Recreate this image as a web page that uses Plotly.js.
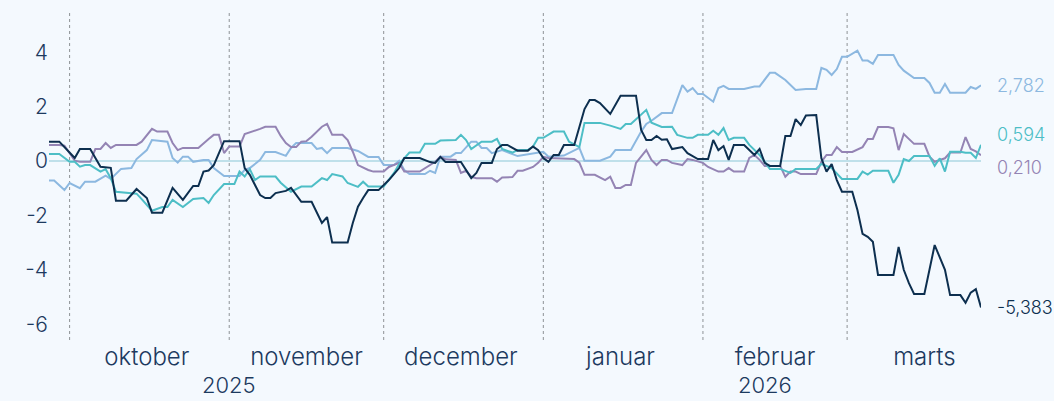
<!DOCTYPE html>
<html>
<head>
<meta charset="utf-8">
<script src="https://cdn.plot.ly/plotly-3.0.1.min.js"></script>
<style>
  html, body { margin: 0; padding: 0; background: #f4f9fe; }
  #chart { width: 1054px; height: 401px; }
</style>
</head>
<body>
<div id="chart"></div>
<script>
// ---- data ----
const seriesNames = ["Serie A", "Serie B", "Serie C", "Serie D"];
const seriesColors = ["#8cb8e0", "#9484b4", "#4dbec6", "#0d2f4f"];

const lightDates = ["2025-09-27","2025-09-28","2025-09-30","2025-10-01","2025-10-03","2025-10-04","2025-10-06","2025-10-08","2025-10-09","2025-10-11","2025-10-13","2025-10-14","2025-10-16","2025-10-17","2025-10-20","2025-10-21","2025-10-22","2025-10-23","2025-10-24","2025-10-25","2025-10-27","2025-10-28","2025-10-29","2025-10-31","2025-11-03","2025-11-04","2025-11-05","2025-11-07","2025-11-08","2025-11-10","2025-11-12","2025-11-13","2025-11-14","2025-11-17","2025-11-18","2025-11-19","2025-11-20","2025-11-21","2025-11-24","2025-11-26","2025-11-28","2025-11-30","2025-12-01","2025-12-03","2025-12-04","2025-12-05","2025-12-06","2025-12-09","2025-12-10","2025-12-11","2025-12-12","2025-12-14","2025-12-15","2025-12-16","2025-12-18","2025-12-19","2025-12-20","2025-12-21","2025-12-22","2025-12-24","2025-12-27","2025-12-30","2026-01-01","2026-01-02","2026-01-05","2026-01-08","2026-01-09","2026-01-12","2026-01-14","2026-01-15","2026-01-18","2026-01-20","2026-01-21","2026-01-22","2026-01-24","2026-01-26","2026-01-28","2026-01-29","2026-01-30","2026-01-31","2026-02-01","2026-02-03","2026-02-04","2026-02-05","2026-02-06","2026-02-09","2026-02-11","2026-02-12","2026-02-14","2026-02-15","2026-02-17","2026-02-19","2026-02-21","2026-02-23","2026-02-24","2026-02-25","2026-02-26","2026-02-27","2026-02-28","2026-03-01","2026-03-03","2026-03-04","2026-03-05","2026-03-06","2026-03-07","2026-03-10","2026-03-11","2026-03-12","2026-03-14","2026-03-16","2026-03-17","2026-03-18","2026-03-19","2026-03-20","2026-03-21","2026-03-24","2026-03-25","2026-03-26","2026-03-27"];
const lightValues = [-0.72,-0.72,-1.07,-0.81,-1.0,-0.76,-0.76,-0.54,-0.66,-0.29,-0.26,0.07,0.4,0.77,0.71,0.11,-0.06,0.16,0.16,-0.03,0.04,0.04,-0.26,-0.55,-0.55,-0.33,-0.26,0.04,0.33,0.33,0.19,0.48,0.66,0.66,0.44,0.48,0.29,0.48,0.48,0.37,0.15,0.15,-0.15,-0.15,0.01,-0.33,-0.48,-0.48,-0.36,-0.44,0.16,0.16,0.29,0.29,0.71,0.71,0.48,0.48,0.29,0.4,0.18,0.26,0.34,0.16,0.2,0.48,0.01,0.01,0.16,0.4,0.4,1.08,1.36,1.48,1.76,1.76,2.79,2.55,2.68,2.46,2.46,2.18,2.68,2.76,2.65,2.65,2.74,2.74,3.24,3.24,2.98,2.61,2.65,2.65,3.42,3.35,3.16,3.38,3.83,3.83,4.06,3.69,3.69,3.57,3.9,3.9,3.53,3.32,3.05,3.05,2.87,2.51,2.51,2.83,2.51,2.51,2.72,2.65,2.782];

const purpleDates = ["2025-09-27","2025-09-29","2025-09-30","2025-10-01","2025-10-02","2025-10-03","2025-10-05","2025-10-06","2025-10-07","2025-10-08","2025-10-09","2025-10-10","2025-10-12","2025-10-14","2025-10-15","2025-10-17","2025-10-18","2025-10-20","2025-10-21","2025-10-22","2025-10-23","2025-10-26","2025-10-28","2025-10-29","2025-10-30","2025-10-31","2025-11-01","2025-11-03","2025-11-04","2025-11-06","2025-11-07","2025-11-08","2025-11-10","2025-11-11","2025-11-12","2025-11-13","2025-11-14","2025-11-15","2025-11-16","2025-11-17","2025-11-19","2025-11-20","2025-11-21","2025-11-23","2025-11-24","2025-11-25","2025-11-26","2025-11-28","2025-11-29","2025-12-01","2025-12-02","2025-12-04","2025-12-05","2025-12-08","2025-12-10","2025-12-11","2025-12-12","2025-12-13","2025-12-15","2025-12-16","2025-12-17","2025-12-18","2025-12-19","2025-12-22","2025-12-23","2025-12-24","2025-12-26","2025-12-27","2025-12-28","2025-12-30","2025-12-31","2026-01-01","2026-01-02","2026-01-07","2026-01-08","2026-01-09","2026-01-11","2026-01-13","2026-01-14","2026-01-15","2026-01-16","2026-01-17","2026-01-18","2026-01-19","2026-01-21","2026-01-22","2026-01-23","2026-01-24","2026-01-25","2026-01-26","2026-01-28","2026-01-29","2026-01-30","2026-02-01","2026-02-02","2026-02-04","2026-02-05","2026-02-06","2026-02-07","2026-02-09","2026-02-10","2026-02-11","2026-02-12","2026-02-13","2026-02-16","2026-02-17","2026-02-18","2026-02-19","2026-02-20","2026-02-23","2026-02-24","2026-02-25","2026-02-26","2026-02-27","2026-02-28","2026-03-02","2026-03-04","2026-03-05","2026-03-06","2026-03-07","2026-03-09","2026-03-10","2026-03-11","2026-03-12","2026-03-14","2026-03-16","2026-03-17","2026-03-18","2026-03-20","2026-03-21","2026-03-23","2026-03-24","2026-03-25","2026-03-26","2026-03-27"];
const purpleValues = [0.59,0.59,0.56,0.29,0.01,-0.03,-0.03,0.44,0.44,0.66,0.48,0.59,0.59,0.59,0.71,1.18,1.08,1.08,0.66,0.4,0.48,0.48,0.81,0.96,0.96,0.29,0.53,0.53,0.99,1.11,1.18,1.26,1.26,0.92,0.66,0.51,0.51,0.71,0.73,0.89,1.26,1.36,0.96,0.96,0.77,0.34,-0.15,-0.33,-0.39,-0.39,-0.22,-0.07,-0.39,-0.39,-0.15,-0.03,0.16,0.06,0.04,-0.44,-0.36,-0.58,-0.63,-0.63,-0.76,-0.61,-0.59,-0.36,-0.36,-0.22,-0.07,0.15,0.11,0.07,-0.06,-0.51,-0.51,-0.7,-0.58,-0.99,-0.99,-0.88,-0.88,-0.07,0.4,0.04,-0.15,0.04,0.04,-0.07,-0.15,0.07,0.04,-0.07,-0.22,-0.39,-0.39,-0.26,-0.39,-0.39,0.11,0.22,0.04,-0.18,-0.18,-0.58,-0.39,-0.39,-0.48,-0.48,-0.03,0.22,0.22,0.51,0.33,0.33,0.51,0.81,0.81,1.25,1.25,1.2,0.4,0.99,0.63,0.63,0.16,-0.03,0.1,0.31,0.31,0.88,0.44,0.35,0.210];

const tealDates = ["2025-09-27","2025-09-29","2025-10-01","2025-10-02","2025-10-03","2025-10-04","2025-10-05","2025-10-07","2025-10-08","2025-10-09","2025-10-10","2025-10-12","2025-10-14","2025-10-15","2025-10-17","2025-10-19","2025-10-20","2025-10-21","2025-10-23","2025-10-25","2025-10-27","2025-10-28","2025-10-29","2025-10-31","2025-11-02","2025-11-03","2025-11-04","2025-11-05","2025-11-06","2025-11-07","2025-11-10","2025-11-11","2025-11-13","2025-11-15","2025-11-17","2025-11-19","2025-11-20","2025-11-21","2025-11-23","2025-11-24","2025-11-26","2025-11-27","2025-11-28","2025-12-01","2025-12-03","2025-12-04","2025-12-06","2025-12-08","2025-12-09","2025-12-11","2025-12-12","2025-12-15","2025-12-16","2025-12-17","2025-12-18","2025-12-20","2025-12-22","2025-12-23","2025-12-24","2025-12-26","2025-12-27","2025-12-29","2025-12-30","2025-12-31","2026-01-01","2026-01-03","2026-01-05","2026-01-06","2026-01-08","2026-01-09","2026-01-12","2026-01-14","2026-01-16","2026-01-17","2026-01-18","2026-01-21","2026-01-22","2026-01-24","2026-01-26","2026-01-27","2026-01-29","2026-01-30","2026-01-31","2026-02-02","2026-02-03","2026-02-04","2026-02-05","2026-02-06","2026-02-07","2026-02-09","2026-02-10","2026-02-12","2026-02-14","2026-02-16","2026-02-18","2026-02-19","2026-02-23","2026-02-24","2026-02-26","2026-02-28","2026-03-03","2026-03-04","2026-03-05","2026-03-06","2026-03-09","2026-03-10","2026-03-11","2026-03-12","2026-03-13","2026-03-14","2026-03-17","2026-03-18","2026-03-19","2026-03-20","2026-03-21","2026-03-23","2026-03-24","2026-03-25","2026-03-26","2026-03-27"];
const tealValues = [0.26,0.26,-0.03,-0.03,-0.21,-0.15,-0.15,-0.39,-0.3,-0.63,-1.13,-1.16,-1.2,-1.4,-1.83,-1.69,-1.69,-1.43,-1.69,-1.4,-1.36,-1.54,-1.25,-0.85,-0.85,-0.39,-0.57,-0.3,-0.7,-0.57,-0.57,-0.8,-1.13,-0.94,-0.94,-0.63,-0.7,-0.48,-0.57,-0.81,-0.95,-0.76,-0.94,-0.94,-0.44,-0.11,0.31,0.31,0.63,0.63,0.75,0.77,0.96,0.77,0.44,0.71,0.71,0.81,0.44,0.31,0.4,0.4,0.53,0.85,0.85,1.08,1.08,0.71,0.51,1.4,1.4,1.3,1.18,1.36,1.36,1.88,1.41,1.25,1.26,0.96,0.85,0.85,0.96,0.96,1.11,0.96,1.21,0.77,0.85,0.85,0.59,0.22,-0.29,-0.29,-0.44,-0.29,-0.29,-0.11,-0.26,-0.66,-0.66,-0.39,-0.5,-0.36,-0.36,-0.8,-0.51,0.07,0.0,0.18,0.18,-0.18,0.1,-0.39,0.34,0.34,0.3,0.3,0.11,0.594];

const darkDates = ["2025-09-27","2025-09-29","2025-10-02","2025-10-03","2025-10-05","2025-10-07","2025-10-09","2025-10-10","2025-10-12","2025-10-14","2025-10-16","2025-10-17","2025-10-19","2025-10-21","2025-10-23","2025-10-25","2025-10-26","2025-10-27","2025-10-28","2025-10-29","2025-10-31","2025-11-03","2025-11-04","2025-11-05","2025-11-07","2025-11-08","2025-11-09","2025-11-10","2025-11-12","2025-11-13","2025-11-15","2025-11-17","2025-11-19","2025-11-20","2025-11-21","2025-11-24","2025-11-25","2025-11-26","2025-11-27","2025-11-28","2025-11-30","2025-12-02","2025-12-04","2025-12-05","2025-12-08","2025-12-10","2025-12-11","2025-12-12","2025-12-13","2025-12-16","2025-12-18","2025-12-19","2025-12-20","2025-12-22","2025-12-23","2025-12-24","2025-12-25","2025-12-27","2025-12-29","2025-12-30","2025-12-31","2026-01-01","2026-01-02","2026-01-03","2026-01-04","2026-01-05","2026-01-07","2026-01-09","2026-01-10","2026-01-11","2026-01-12","2026-01-14","2026-01-16","2026-01-19","2026-01-20","2026-01-21","2026-01-22","2026-01-23","2026-01-24","2026-01-25","2026-01-26","2026-01-28","2026-01-29","2026-01-31","2026-02-02","2026-02-03","2026-02-04","2026-02-05","2026-02-06","2026-02-07","2026-02-09","2026-02-10","2026-02-11","2026-02-12","2026-02-13","2026-02-14","2026-02-16","2026-02-17","2026-02-18","2026-02-19","2026-02-20","2026-02-21","2026-02-23","2026-02-24","2026-02-25","2026-02-26","2026-02-27","2026-02-28","2026-03-02","2026-03-03","2026-03-04","2026-03-05","2026-03-06","2026-03-07","2026-03-10","2026-03-11","2026-03-12","2026-03-13","2026-03-14","2026-03-16","2026-03-18","2026-03-20","2026-03-21","2026-03-23","2026-03-24","2026-03-25","2026-03-26","2026-03-27"];
const darkValues = [0.71,0.71,0.11,0.44,0.44,-0.21,-0.25,-1.46,-1.46,-1.03,-1.36,-1.9,-1.9,-0.99,-1.43,-0.92,-0.92,-0.39,-0.35,-0.15,0.73,0.73,-0.26,-0.51,-1.25,-1.36,-1.36,-1.18,-1.1,-0.99,-1.5,-1.5,-2.28,-2.06,-3.0,-3.0,-2.28,-1.68,-1.36,-1.07,-1.07,-0.7,-0.26,0.11,0.11,-0.04,-0.07,0.15,-0.04,-0.04,-0.63,-0.44,-0.07,-0.07,0.44,0.59,0.59,0.38,0.38,0.53,0.4,0.11,-0.03,0.22,0.22,0.59,0.59,1.91,2.24,2.24,2.13,1.73,2.4,2.4,1.14,0.77,0.77,0.92,0.78,0.8,0.44,0.51,0.29,0.07,0.07,0.77,0.4,0.55,0.04,0.59,0.59,0.4,0.22,0.44,-0.07,-0.18,-0.18,0.92,0.92,1.54,1.32,1.67,1.69,0.1,-0.39,-0.11,-0.7,-1.13,-1.13,-1.8,-2.68,-2.79,-2.97,-4.19,-4.19,-3.16,-4.0,-4.49,-4.89,-4.89,-3.09,-4.0,-4.93,-4.93,-5.21,-4.84,-4.71,-5.383];

const monthStarts = ["2025-10-01","2025-11-01","2025-12-01","2026-01-01","2026-02-01","2026-03-01"];
const monthTickDates = ["2025-10-16","2025-11-16","2025-12-16","2026-01-16","2026-02-15","2026-03-16"];
const monthTickLabels = ["oktober","november","december","januar","februar","marts"];
const yearLabels = ["2025","2026"];
const yearLabelDates = ["2025-11-01","2026-02-13"];
const yTickVals = [4, 2, 0, -2, -4, -6];
const yTickText = ["4", "2", "0", "-2", "-4", "-6"];
const xStart = "2025-09-27", xEnd = "2026-03-27";

// label offsets (px) for end-value annotations to avoid overlap
const endLabelShift = [0, -12, 10, 0];

// ---- build ----
const allDates = [lightDates, purpleDates, tealDates, darkDates];
const allValues = [lightValues, purpleValues, tealValues, darkValues];
const FONT = "Inter, 'Open Sans', sans-serif";
const TEXT = "#1d3a5f";

const traces = allDates.map((d, i) => ({
  type: "scatter", mode: "lines", name: seriesNames[i],
  x: d, y: allValues[i],
  line: { color: seriesColors[i], width: 2 },
  hoverinfo: "skip"
}));

const shapes = monthStarts.map(m => ({
  type: "line", xref: "x", yref: "paper", x0: m, x1: m, y0: 0, y1: 1,
  line: { color: "#8e9296", width: 1, dash: "dot" }, layer: "below"
}));

const annotations = [];
allValues.forEach((v, i) => {
  const last = v[v.length - 1];
  annotations.push({
    xref: "paper", yref: "y", x: 1, y: last, xanchor: "left", yanchor: "middle",
    xshift: 14, yshift: endLabelShift[i], showarrow: false,
    text: last.toFixed(3).replace(".", ","),
    font: { family: FONT, size: 18, color: seriesColors[i], weight: 300 }
  });
});
yearLabels.forEach((t, i) => {
  annotations.push({
    xref: "x", yref: "paper", x: yearLabelDates[i], y: 0, yanchor: "top",
    yshift: -30, showarrow: false, text: t,
    font: { family: FONT, size: 22, color: TEXT, weight: 300 }
  });
});

const layout = {
  width: 1054, height: 401,
  margin: { l: 49, r: 73, t: 10, b: 61 },
  paper_bgcolor: "#f4f9fe", plot_bgcolor: "#f4f9fe",
  showlegend: false,
  xaxis: {
    type: "date", range: [xStart, xEnd],
    tickvals: monthTickDates, ticktext: monthTickLabels,
    showgrid: false, zeroline: false, showline: false, ticks: "",
    tickfont: { family: FONT, size: 24, color: TEXT, weight: 300 },
    fixedrange: true
  },
  yaxis: {
    range: [-6.58, 5.55],
    tickvals: yTickVals, ticktext: yTickText,
    showgrid: false, zeroline: true, zerolinecolor: "#bfe0ea", zerolinewidth: 1.5,
    showline: false, ticks: "",
    tickfont: { family: FONT, size: 21, color: TEXT, weight: 300 },
    fixedrange: true
  },
  shapes: shapes,
  annotations: annotations
};

Plotly.newPlot("chart", traces, layout, { displayModeBar: false, staticPlot: true });
</script>
</body>
</html>
